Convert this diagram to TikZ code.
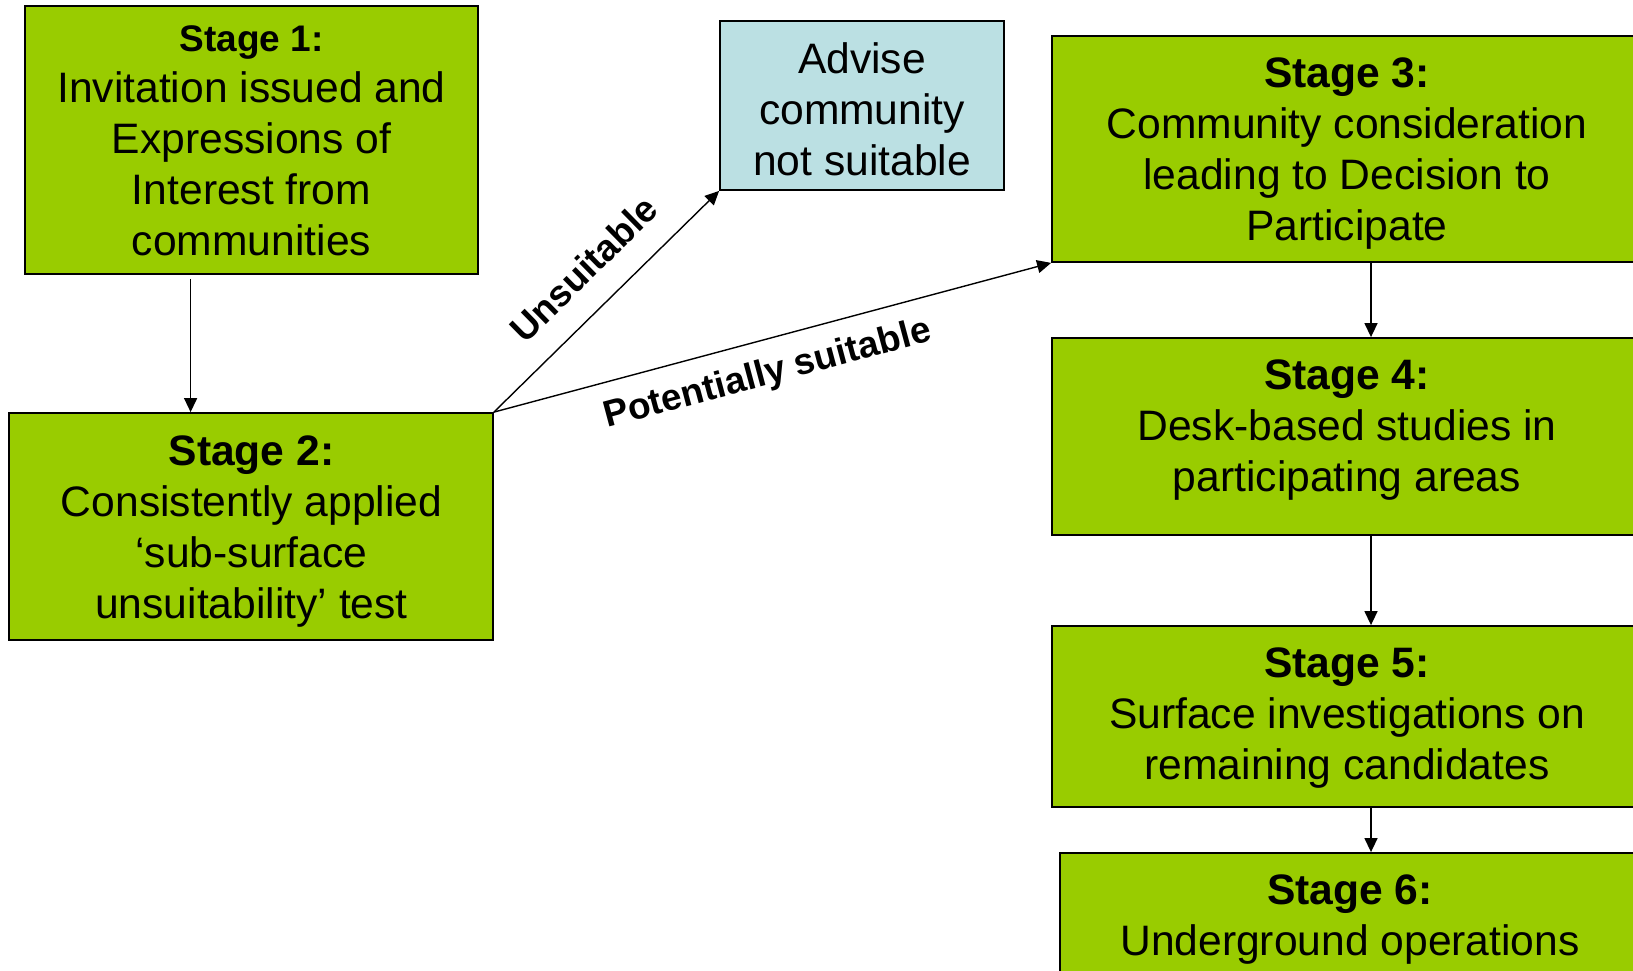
\documentclass[tikz,border=0pt]{standalone}
\usepackage{fontspec}
\setmainfont{Liberation Sans}
\usetikzlibrary{arrows.meta}
\definecolor{stagegreen}{HTML}{99CC00}
\definecolor{adviseblue}{HTML}{BBE0E3}
\begin{document}
\begin{tikzpicture}[x=1pt,y=-1pt,
  box/.style={draw=black, line width=1.8pt, rectangle, inner sep=0pt},
  greenbox/.style={box, fill=stagegreen},
  bluebox/.style={box, fill=adviseblue},
  txt/.style={align=center, inner sep=0pt, font=\fontsize{42.6}{51}\selectfont},
  arr/.style={line width=1.4pt, -{Triangle[length=14pt,width=13pt]}},
  lbl/.style={font=\bfseries\fontsize{37}{44}\selectfont, sloped}
]
\useasboundingbox (0,0) rectangle (1633,970);
\clip (0,0) rectangle (1633,970);
% boxes
\node[greenbox, minimum width=453pt, minimum height=268pt] (s1) at (251.5,140) {};
\node[greenbox, minimum width=484pt, minimum height=227pt] (s2) at (251,526.5) {};
\node[bluebox, minimum width=284pt, minimum height=169pt] (adv) at (862,105.5) {};
\node[greenbox, minimum width=590pt, minimum height=226pt] (s3) at (1347,149) {};
\node[greenbox, minimum width=590pt, minimum height=197pt] (s4) at (1347,436.5) {};
\node[greenbox, minimum width=590pt, minimum height=181pt] (s5) at (1347,716.5) {};
\node[greenbox, minimum width=580pt, minimum height=206pt] (s6) at (1350,956) {};
% texts
\node[txt] (t1) at (251.5,141) {{\bfseries\fontsize{37}{51}\selectfont Stage 1:}\\Invitation issued and\\Expressions of\\Interest from\\communities};
\node[txt] (t2) at (251.5,532) {{\bfseries Stage 2:}\\Consistently applied\\‘sub-surface\\unsuitability’ test};
\node[txt] (tadv) at (862,109) {Advise\\community\\not suitable};
\node[txt] (t3) at (1347,154) {{\bfseries Stage 3:}\\Community consideration\\leading to Decision to\\Participate};
\node[txt] (t4) at (1347,430) {{\bfseries Stage 4:}\\Desk-based studies in\\participating areas};
\node[txt] (t5) at (1347,718) {{\bfseries Stage 5:}\\Surface investigations on\\remaining candidates};
\node[txt] (t6) at (1350,920) {{\bfseries Stage 6:}\\Underground operations};
% connectors
\coordinate (c1) at (190.6,0);
\coordinate (c2) at (1371,0);
\draw[arr, shorten <=4pt] (s1.south -| c1) -- (s2.north -| c1);
\draw[arr] (s2.north east) -- node[lbl, pos=0.52, anchor=south, inner sep=25pt] (lu) {Unsuitable} (adv.south west);
\draw[arr] (s2.north east) -- node[lbl, pos=0.475, anchor=north, inner sep=17pt] (lp) {Potentially suitable} (s3.south west);
\draw[arr] (s3.south -| c2) -- (s4.north -| c2);
\draw[arr] (s4.south -| c2) -- (s5.north -| c2);
\draw[arr] (s5.south -| c2) -- (s6.north -| c2);
\end{tikzpicture}
\end{document}
